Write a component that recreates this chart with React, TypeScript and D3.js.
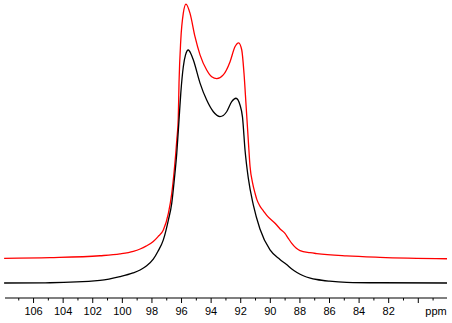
import React, { useEffect, useRef } from 'react';
import * as d3 from 'd3';

// chemical shift (ppm) and intensity, black = lower trace
const blackPpm = [107.99, 104.89, 101.51, 100.16, 99.28, 98.8, 98.4, 97.91, 97.6, 97.23, 96.89, 96.66, 96.49, 96.32, 96.17, 96.05, 95.88, 95.73, 95.54, 95.36, 95.2, 94.75, 94.3, 93.85, 93.4, 92.95, 92.61, 92.32, 92.05, 91.88, 91.71, 91.49, 91.15, 90.7, 90.02, 89.35, 88.9, 88.55, 88.2, 87.77, 87.3, 86.86, 86.0, 84.84, 82.59, 78.06];
const blackInt = [0, 0.1, 1.1, 2.7, 4.3, 5.6, 7.2, 10.2, 13.5, 18.5, 27.0, 34.3, 44.2, 55.8, 70.0, 81.5, 92.8, 97.9, 100, 98.3, 95.7, 85.8, 78.5, 73.5, 71.4, 73.5, 77.8, 79.3, 76.4, 71.2, 57.1, 45.1, 33.5, 23.2, 14.2, 10.1, 7.9, 6.0, 4.5, 3.1, 2.1, 1.5, 0.8, 0.3, 0.1, 0];

// upper (red) trace
const redPpm = [107.99, 104.89, 101.51, 100.16, 99.26, 98.8, 98.4, 97.91, 97.6, 97.23, 96.89, 96.66, 96.49, 96.32, 96.22, 96.17, 96.05, 95.88, 95.7, 95.43, 95.09, 94.75, 94.3, 93.96, 93.62, 93.18, 92.72, 92.39, 92.14, 91.93, 91.78, 91.64, 91.49, 91.37, 91.2, 91.03, 90.92, 90.7, 90.47, 90.24, 89.57, 89.34, 89.01, 88.8, 88.55, 88.26, 87.99, 87.32, 86.86, 84.84, 82.59, 78.06];
const redInt = [10.6, 10.9, 11.7, 12.5, 13.6, 14.6, 15.8, 17.8, 19.8, 22.7, 29.9, 38.5, 48.5, 61.4, 70.8, 85.8, 104.3, 115.8, 119.7, 115.8, 105.7, 97.9, 91.4, 88.5, 87.7, 89.3, 95.0, 101.4, 103.1, 100, 90.1, 76.4, 61.4, 50, 43, 38.5, 36, 33, 31, 29, 24.9, 23.2, 21.3, 19.3, 17.0, 15.0, 13.9, 13.0, 12.6, 11.6, 11.0, 10.4];

const majorTicks = [106, 104, 102, 100, 98, 96, 94, 92, 90, 88, 86, 84, 82, 80];
const minorTicks = [107, 105, 103, 101, 99, 97, 95, 93, 91, 89, 87, 85, 83, 81, 79];
const unitLabel = 'ppm';

const App = () => {
    const ref = useRef<SVGSVGElement>(null);

    useEffect(() => {
        const width = 452;
        const height = 323;
        const svg = d3.select(ref.current)
            .attr('width', width)
            .attr('height', height);

        svg.selectAll('*').remove();

        const x = d3.scaleLinear().domain([107.93, 78.06]).range([5, 447]);
        const y = d3.scaleLinear().domain([0, 100]).range([283, 50]);
        const axisY = 298;

        const line = d3.line<[number, number]>()
            .x(d => x(d[0]))
            .y(d => y(d[1]))
            .curve(d3.curveMonotoneX);

        const series = [
            { ppm: redPpm, val: redInt, color: '#ff0000' },
            { ppm: blackPpm, val: blackInt, color: '#000000' },
        ];

        series.forEach(s => {
            const pts = s.ppm.map((p, i) => [p, s.val[i]] as [number, number]);
            svg.append('path')
                .attr('d', line(pts))
                .attr('fill', 'none')
                .attr('stroke', s.color)
                .attr('stroke-width', 1.3)
                .attr('stroke-linejoin', 'round');
        });

        // axis
        const g = svg.append('g');
        g.append('line')
            .attr('x1', x.range()[0]).attr('x2', x.range()[1])
            .attr('y1', axisY).attr('y2', axisY)
            .attr('stroke', 'black')
            .attr('stroke-width', 1.2);

        g.selectAll('.major')
            .data(majorTicks)
            .enter()
            .append('line')
            .attr('x1', d => x(d)).attr('x2', d => x(d))
            .attr('y1', axisY).attr('y2', axisY + 5)
            .attr('stroke', 'black');

        g.selectAll('.minor')
            .data(minorTicks)
            .enter()
            .append('line')
            .attr('x1', d => x(d)).attr('x2', d => x(d))
            .attr('y1', axisY).attr('y2', axisY + 2.5)
            .attr('stroke', 'black');

        g.selectAll('text')
            .data(majorTicks.filter(d => d !== 80))
            .enter()
            .append('text')
            .text(d => d)
            .attr('x', d => x(d))
            .attr('y', axisY + 17)
            .attr('text-anchor', 'middle')
            .style('font-family', 'Liberation Sans, Arial, sans-serif')
            .style('font-size', '11px');

        g.append('text')
            .text(unitLabel)
            .attr('x', 436)
            .attr('y', axisY + 17)
            .attr('text-anchor', 'middle')
            .style('font-family', 'Liberation Sans, Arial, sans-serif')
            .style('font-size', '11px');
    }, []);

    return (
        <svg ref={ref} style={{ position: 'absolute', left: 0, top: 0, background: 'white' }}></svg>
    );
};

export default App;
